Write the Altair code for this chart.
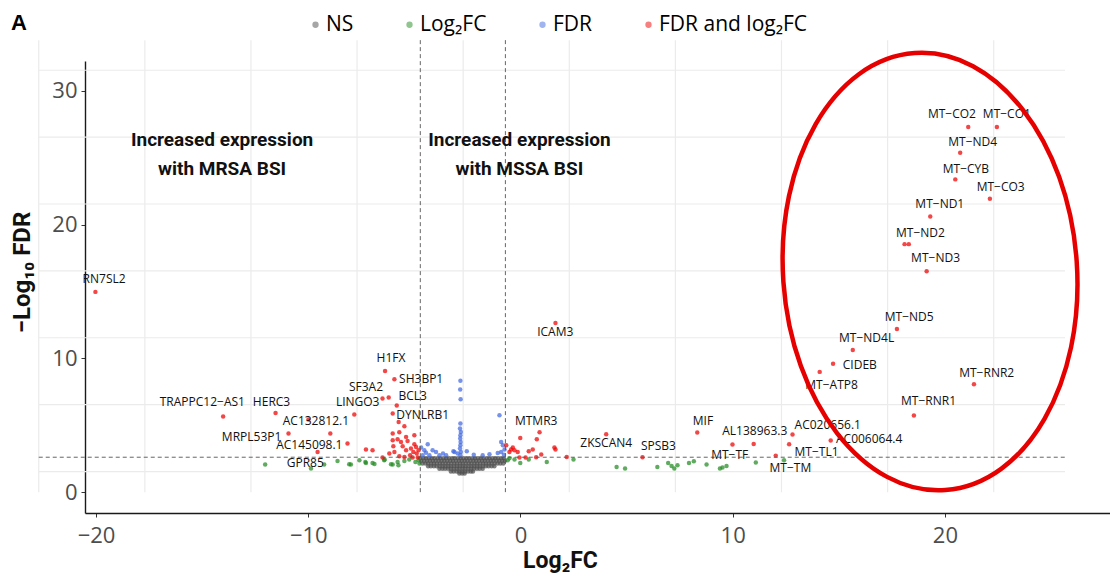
import altair as alt
import pandas as pd

# ---------------- data ----------------
categories = ["NS", "Log₂FC", "FDR", "FDR and log₂FC"]
cat_colors = ["#4d4d4d", "#228b22", "#4169e1", "#ee0000"]

# NS genes: dense wedge, stored row by row (row -log10 FDR, row log2FC values)
ns_row_y = [2.55, 2.35, 2.15, 1.95, 1.75, 1.55, 1.40]
ns_row_x = [
    [-4.72, -4.58, -4.45, -4.31, -4.18, -4.04, -3.90, -3.77, -3.63, -3.50, -3.36, -3.22, -3.09, -2.95, -2.82,
     -2.68, -2.55, -2.41, -2.27, -2.14, -2.00, -1.87, -1.73, -1.59, -1.46, -1.32, -1.19, -1.05, -0.91, -0.78],
    [-4.68, -4.54, -4.40, -4.27, -4.13, -4.00, -3.86, -3.72, -3.59, -3.45, -3.31, -3.18, -3.04, -2.90, -2.77,
     -2.63, -2.50, -2.36, -2.22, -2.09, -1.95, -1.81, -1.68, -1.54, -1.40, -1.27, -1.13, -1.00, -0.86, -0.73],
    [-4.62, -4.48, -4.35, -4.21, -4.08, -3.94, -3.80, -3.67, -3.53, -3.40, -3.26, -3.12, -2.99, -2.85, -2.72,
     -2.58, -2.44, -2.31, -2.17, -2.04, -1.90, -1.76, -1.63, -1.49, -1.36, -1.22, -1.08, -0.95, -0.81],
    [-4.35, -4.22, -4.08, -3.95, -3.81, -3.67, -3.54, -3.40, -3.27, -3.13, -2.99, -2.86, -2.72, -2.59, -2.45,
     -2.31, -2.18, -2.04, -1.91, -1.77, -1.63, -1.50, -1.36, -1.23],
    [-3.82, -3.68, -3.55, -3.41, -3.28, -3.14, -3.00, -2.87, -2.73, -2.60, -2.46, -2.32, -2.19, -2.05, -1.92, -1.78],
    [-3.28, -3.15, -3.01, -2.88, -2.74, -2.61, -2.47, -2.34, -2.24],
    [-2.88, -2.75, -2.63],
]

green_x = [-12.03, -9.87, -9.25, -8.62, -8.07, -7.59, -7.28, -6.97, -6.42, -6.02, -5.75, -7.99, -7.31, -6.88,
           -6.40, -6.10, -5.79, -5.47, -5.24, -4.95, -4.80, -4.76,
           -0.60, -0.28, -0.01, 0.39, 1.24, 2.50, -0.52, 4.53, 4.93, 6.45, 6.96, 7.12, 7.25, 7.40, 7.94, 8.17,
           8.77, 9.40, 9.52, 9.71, 11.09, 12.42]
green_y = [2.07, 1.77, 2.07, 2.34, 2.09, 2.39, 2.19, 2.19, 2.39, 2.07, 2.02, 2.07, 2.27, 2.12,
           2.45, 2.09, 2.27, 2.34, 2.45, 2.27, 2.39, 2.15,
           2.39, 2.45, 2.19, 2.45, 2.27, 2.45, 2.55, 1.89, 1.77, 1.89, 2.19, 1.97, 1.77, 2.02, 2.19, 2.32,
           2.07, 1.77, 1.85, 1.97, 2.22, 2.39]

blue_x = [-2.83, -2.84, -2.82, -2.83, -2.85, -2.81, -2.83, -2.84, -2.82, -2.83, -2.85, -2.81, -2.83,
          -3.16, -2.53, -0.99, -0.91, -0.83, -1.46, -1.78, -1.07, -0.91, -4.37, -4.14, -4.53, -3.98, -4.61,
          -3.82, -4.29, -3.11, -2.96, -3.50, -4.68, -4.45, -3.65, -2.20, -0.75, -0.78]
blue_y = [8.33, 7.68, 6.96, 5.14, 4.76, 4.51, 4.26, 4.02, 3.76, 3.52, 3.27, 3.01, 2.77,
          3.07, 3.07, 5.76, 3.76, 3.52, 2.84, 2.77, 2.94, 3.01, 3.59, 3.14, 3.14, 3.01, 2.77,
          2.77, 2.77, 3.01, 2.89, 2.77, 3.34, 2.95, 2.90, 2.80, 3.20, 2.80]

red_x = [-20.03, -14.01, -11.54, -9.99, -8.96, -10.93, -8.15, -9.56, -7.83, -6.50, -6.21, -6.38, -5.94, -5.83, -6.02,
         -7.28, -6.97, -6.50, -6.02, -5.71, -5.63, -5.79, -5.99, -5.55, -5.32, -6.18, -5.94, -5.39, -5.16, -5.00,
         -4.92, -5.05, -4.89, -5.20, -5.71, -5.47, -5.08, -4.84, -4.80, -5.74, -5.47, -5.39, -5.00, -6.02,
         1.65, 0.90, -0.01, 0.77, -0.67, -0.44, -0.36, -0.28, -0.52, -0.13, 0.39, 0.58, 0.98, 1.60, 1.65, 2.18,
         0.24, -0.05, 0.74,
         4.04, 5.75, 8.33, 10.99, 9.99, 12.03, 12.66, 12.82, 14.62, 18.54, 21.37, 14.10, 14.73, 15.66, 17.74,
         19.14, 18.10, 18.30, 19.31, 22.12, 20.49, 20.72, 21.10, 22.45]
red_y = [14.98, 5.66, 5.93, 5.44, 4.39, 4.39, 3.64, 3.01, 5.81, 7.01, 7.08, 9.07, 8.45, 6.48, 5.89,
         3.19, 3.14, 2.60, 4.39, 4.49, 3.76, 3.96, 3.44, 3.44, 3.84, 2.89, 3.01, 3.14, 3.27, 3.59,
         3.39, 3.01, 2.89, 2.77, 2.69, 2.64, 2.60, 2.60, 3.14, 5.26, 4.94, 4.14, 4.26, 3.89,
         12.66, 4.49, 4.06, 3.96, 3.52, 3.19, 3.34, 3.14, 3.01, 3.01, 3.07, 3.19, 2.82, 3.34, 3.19, 2.64,
         2.60, 2.60, 2.62,
         4.34, 2.62, 4.47, 3.61, 3.57, 2.74, 3.59, 4.32, 3.87, 5.74, 8.08, 9.00, 9.60, 10.64, 12.21,
         16.53, 18.55, 18.55, 20.62, 21.94, 23.39, 25.38, 27.30, 27.30]

gene_labels = ["RN7SL2", "TRAPPC12−AS1", "HERC3", "AC132812.1", "MRPL53P1", "AC145098.1", "GPR85", "LINGO3",
               "SF3A2", "H1FX", "SH3BP1", "BCL3", "DYNLRB1", "ICAM3", "MTMR3", "ZKSCAN4", "SPSB3", "MIF",
               "AL138963.3", "MT−TF", "MT−TM", "MT−TL1", "AC020656.1", "AC006064.4", "MT−RNR1", "MT−RNR2",
               "MT−ATP8", "CIDEB", "MT−ND4L", "MT−ND5", "MT−ND3", "MT−ND2", "MT−ND1", "MT−CO3", "MT−CYB",
               "MT−ND4", "MT−CO2", "MT−CO1"]
label_x = [-19.62, -14.99, -11.73, -9.64, -12.67, -9.95, -10.14, -7.67, -7.28, -6.10, -4.68, -5.08, -4.61,
           1.64, 0.74, 4.04, 6.50, 8.60, 11.04, 9.86, 12.72, 13.95, 14.48, 16.43, 19.23, 21.97, 14.66, 15.99,
           16.31, 18.32, 19.56, 18.85, 19.76, 22.63, 20.99, 21.31, 20.33, 22.92]
label_y = [15.93, 6.75, 6.75, 5.33, 4.14, 3.57, 2.19, 6.75, 7.88, 10.04, 8.50, 7.18, 5.76,
           11.99, 5.33, 3.69, 3.46, 5.33, 4.58, 2.77, 1.85, 3.01, 5.06, 3.99, 6.81, 8.90, 8.00, 9.48,
           11.54, 13.11, 17.50, 19.39, 21.54, 22.79, 24.16, 26.20, 28.27, 28.27]

annot_text = ["Increased expression\nwith MRSA BSI", "Increased expression\nwith MSSA BSI"]
annot_x = [-14.06, -0.05]
annot_y = [26.3, 26.3]

panel_letter = ["A"]

# background grid of the panel (drawn offset, as in the picture) and cut-off lines
grid_x = [-22.7, -17.7, -12.7, -7.7, -2.7, 2.3, 7.3, 12.3, 17.3, 22.3]
grid_y = [1.55, 6.55, 11.55, 16.55, 21.55, 26.55, 31.55]
panel_x = [-22.7, 25.66]
panel_y = [0.0, 33.8]
cut_fdr = [2.62]
cut_fc = [-4.72, -0.71]

# red ring around the mitochondrial genes
ring_x = [19.3]
ring_y = [16.5]

# ---------------- tables ----------------
rows = []
for yy, xs_ in zip(ns_row_y, ns_row_x):
    for xx in xs_:
        rows.append({"x": xx, "y": yy, "cat": categories[0]})
for xx, yy in zip(green_x, green_y):
    rows.append({"x": xx, "y": yy, "cat": categories[1]})
for xx, yy in zip(blue_x, blue_y):
    rows.append({"x": xx, "y": yy, "cat": categories[2]})
for xx, yy in zip(red_x, red_y):
    rows.append({"x": xx, "y": yy, "cat": categories[3]})
points_df = pd.DataFrame(rows)

labels_df = pd.DataFrame({"label": gene_labels, "x": label_x, "y": label_y})
annot_df = pd.DataFrame({"text": annot_text, "x": annot_x, "y": annot_y})
vgrid_df = pd.DataFrame({"x": grid_x, "y": panel_y[1], "y2": panel_y[0]})
hgrid_df = pd.DataFrame({"y": grid_y, "x": panel_x[0], "x2": panel_x[1]})
hcut_df = pd.DataFrame({"y": cut_fdr, "x": panel_x[0], "x2": panel_x[1]})
vcut_df = pd.DataFrame({"x": cut_fc, "y": panel_y[1], "y2": panel_y[0]})
ring_df = pd.DataFrame({"x": ring_x, "y": ring_y})
letter_df = pd.DataFrame({"t": panel_letter})

# ---------------- scales / axes ----------------
xs = alt.Scale(domain=[-20.52, 27.78], nice=False, zero=False)
ys = alt.Scale(domain=[-1.55, 32.24], nice=False, zero=False)

xaxis = alt.Axis(values=[-20, -10, 0, 10, 20], title="Log₂FC", grid=False,
                 domainColor="#1a1a1a", domainWidth=1.4, tickColor="#333333", tickSize=4, tickWidth=1,
                 labelFont="Open Sans", labelFontSize=22, labelColor="#4d4d4d", labelPadding=8,
                 titleFont="Roboto", titleFontSize=23, titleFontWeight="bold", titleColor="#111111",
                 titleX=475, titleY=54, titleAlign="center", titleBaseline="alphabetic")
yaxis = alt.Axis(values=[0, 10, 20, 30], title="−Log₁₀ FDR", grid=False,
                 domainColor="#1a1a1a", domainWidth=1.4, tickColor="#333333", tickSize=4, tickWidth=1,
                 labelFont="Open Sans", labelFontSize=22, labelColor="#4d4d4d", labelPadding=4,
                 titleFont="Roboto", titleFontSize=24, titleFontWeight="bold", titleColor="#111111",
                 titleX=-63, titleY=211, titleAngle=270, titleAlign="center", titleBaseline="middle")


def X(f):
    return alt.X(f, type="quantitative", scale=xs, axis=xaxis)


def Y(f):
    return alt.Y(f, type="quantitative", scale=ys, axis=yaxis)


vgrid = alt.Chart(vgrid_df).mark_rule(color="#ebebeb", strokeWidth=1.2).encode(
    x=X("x"), y=Y("y"), y2="y2")
hgrid = alt.Chart(hgrid_df).mark_rule(color="#ebebeb", strokeWidth=1.2).encode(
    x=X("x"), x2="x2", y=Y("y"))

pts = alt.Chart(points_df).mark_point(filled=True, size=20, opacity=0.72, strokeWidth=0).encode(
    x=X("x"), y=Y("y"),
    color=alt.Color("cat:N", title=None,
                    scale=alt.Scale(domain=categories, range=cat_colors),
                    legend=alt.Legend(orient="none", legendX=220, legendY=-47, direction="horizontal",
                                      labelFont="Open Sans", labelFontSize=21, labelColor="#000000",
                                      symbolType="circle", symbolSize=40, symbolOpacity=0.5,
                                      symbolStrokeWidth=0, labelOffset=0, columnPadding=45, padding=0)),
)

hcut = alt.Chart(hcut_df).mark_rule(color="#555555", strokeWidth=0.9, strokeDash=[4, 3]).encode(
    x=X("x"), x2="x2", y=Y("y"))
vcut = alt.Chart(vcut_df).mark_rule(color="#555555", strokeWidth=0.9, strokeDash=[4, 3]).encode(
    x=X("x"), y=Y("y"), y2="y2")

labels = alt.Chart(labels_df).mark_text(font="Open Sans", fontSize=12, color="#111111",
                                        align="center", baseline="middle").encode(
    x=X("x"), y=Y("y"), text="label")

annots = alt.Chart(annot_df).mark_text(font="Roboto", fontSize=19, fontWeight="bold",
                                       color="#111111", align="center", baseline="middle",
                                       lineBreak="\n", lineHeight=29).encode(
    x=X("x"), y=Y("y"), text="text")

ELLIPSE = ("M0,-1.49C0.552,-1.49,1,-0.823,1,0C1,0.823,0.552,1.49,0,1.49"
           "C-0.552,1.49,-1,0.823,-1,0C-1,-0.823,-0.552,-1.49,0,-1.49Z")
ring = alt.Chart(ring_df).mark_point(shape=ELLIPSE, size=86436, filled=False, color="#e60000",
                                     strokeWidth=4.5, opacity=1, angle=356).encode(
    x=X("x"), y=Y("y"))

letter = alt.Chart(letter_df).mark_text(font="Liberation Sans", fontSize=22, fontWeight="bold",
                                        color="#000000", align="left", baseline="alphabetic").encode(
    x=alt.value(-74), y=alt.value(-31), text="t")

chart = alt.layer(vgrid, hgrid, pts, hcut, vcut, labels, annots, ring, letter).properties(
    width=1025, height=452,
    autosize=alt.AutoSizeParams(type="none"),
    padding={"left": 77, "top": 53, "right": 0, "bottom": 61},
    background="white",
).configure_view(stroke=None)

chart.save("out.html", embed_options={"renderer": "svg", "actions": False})
